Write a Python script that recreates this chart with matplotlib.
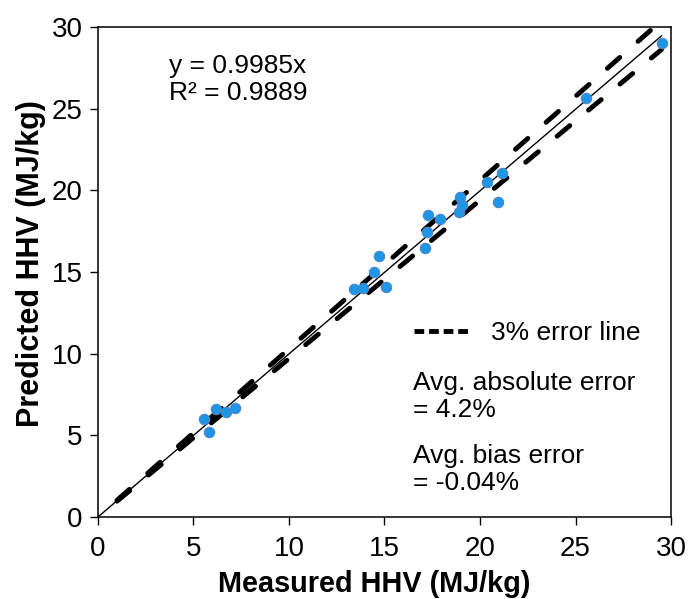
import numpy as np
import matplotlib
matplotlib.use("Agg")
import matplotlib.pyplot as plt
from matplotlib.lines import Line2D

# ── Data ──────────────────────────────────────────────────────────────────────
measured = [5.57, 6.18, 5.83, 6.70, 7.19,
            13.40, 13.86, 14.45, 14.73, 15.08,
            17.14, 17.21, 17.26, 17.89,
            18.95, 18.92, 19.04,
            20.35, 21.14, 20.93,
            25.55, 29.51]
predicted = [5.98, 6.60, 5.22, 6.41, 6.66,
             13.96, 14.04, 15.02, 15.98, 14.07,
             16.45, 17.47, 18.47, 18.27,
             19.58, 18.70, 19.10,
             20.53, 21.08, 19.31,
             25.66, 29.00]

SLOPE = 0.9985
R2 = 0.9889
ERR = 0.03
FIT_RANGE = [0.0, 29.5]
ERR_RANGE = [1.0, 29.5]

plt.rcParams.update({
    "font.family": ["Liberation Sans", "DejaVu Sans"],
    "font.size": 19,
})

fig = plt.figure(figsize=(6.88, 5.99), dpi=100)
ax = fig.add_axes([0.1424, 0.1369, 0.8329, 0.818])

# ±3% error lines
xe = np.array(ERR_RANGE)
for f in (1 + ERR, 1 - ERR):
    ax.plot(xe, f * xe, color="black", linewidth=3.5,
            dashes=(3.4, 5.0), dash_capstyle="round", zorder=2)

# trend line
xf = np.array(FIT_RANGE)
ax.plot(xf, SLOPE * xf, color="black", linewidth=1.0, zorder=3)

ax.plot(measured, predicted, linestyle="none", marker="o", markersize=7.5,
        markerfacecolor="#1E96E8", markeredgecolor="#4F86C6",
        markeredgewidth=0.8, zorder=4)

ax.set_xlim(0, 30)
ax.set_ylim(0, 30)
ax.set_xticks(np.arange(0, 31, 5))
ax.set_yticks(np.arange(0, 31, 5))
ax.tick_params(direction="out", length=6, width=1.0, labelsize=20)
ax.tick_params(axis="x", pad=8)
ax.tick_params(axis="y", pad=5)
for sp in ax.spines.values():
    sp.set_linewidth(1.1)

ax.set_xlabel("Measured HHV (MJ/kg)", fontsize=20.8, fontweight="bold")
ax.set_ylabel("Predicted HHV (MJ/kg)", fontsize=22, fontweight="bold")
ax.xaxis.set_label_coords(0.482, -0.108)
ax.yaxis.set_label_coords(-0.091, 0.518)

ax.text(0.124, 0.945, f"y = {SLOPE}x\nR² = {R2}", transform=ax.transAxes,
        fontsize=19, va="top", ha="left", linespacing=1.15)

proxy = Line2D([0], [0], color="black", linewidth=3.5, dashes=(2.0, 1.0))
ax.legend(handles=[proxy], labels=["3% error line"], loc="center left",
          bbox_to_anchor=(0.51, 0.376), frameon=False, fontsize=19,
          handlelength=2.1, handletextpad=0.82)

ax.text(0.55, 0.298, "Avg. absolute error\n= 4.2%", transform=ax.transAxes,
        fontsize=19, va="top", ha="left", linespacing=1.15)
ax.text(0.55, 0.149, "Avg. bias error\n= -0.04%", transform=ax.transAxes,
        fontsize=19, va="top", ha="left", linespacing=1.15)

fig.savefig("out.png", dpi=100)
